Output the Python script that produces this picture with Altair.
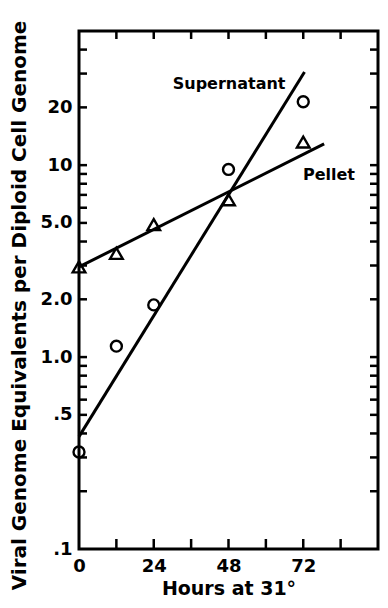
import altair as alt
import pandas as pd

# ---- data ----
hours = [0, 12, 24, 48, 72]
supernatant = [0.32, 1.14, 1.87, 9.5, 21.4]
pellet = [2.95, 3.47, 4.9, 6.6, 13.2]

sup_fit_hours = [0, 72.4]
sup_fit = [0.385, 30.6]
pel_fit_hours = [0, 78.7]
pel_fit = [2.95, 12.9]

y_label_values = [0.1, 0.5, 1, 2, 5, 10, 20]
y_label_texts = [".1", ".5", "1.0", "2.0", "5.0", "10", "20"]
y_ticks = [0.2, 0.3, 0.4, 0.5, 0.6, 0.7, 0.8, 0.9, 1, 2, 3, 4, 5, 6, 7, 8, 9, 10, 20, 30, 40]
x_label_values = [0, 24, 48, 72]
x_ticks = [12, 24, 36, 48, 60, 72, 84]

series_labels = ["Supernatant", "Pellet"]
label_hours = [66.3, 71.9]
label_values = [25.0, 8.35]
label_align = ["right", "left"]

W, H = 299, 518
FONT = "DejaVu Sans"

xscale = alt.Scale(domain=[0, 96], nice=False, zero=False)
yscale = alt.Scale(type="log", domain=[0.1, 50], nice=False)

label_expr = " : ".join(
    [f"datum.value == {v} ? '{t}'" for v, t in zip(y_label_values, y_label_texts)]
) + " : ''"

x_axis = alt.Axis(
    values=x_label_values, title="Hours at 31°", grid=False, ticks=False, domain=False,
    labelFlush=False, labelFont=FONT, labelFontSize=18, labelFontWeight="bold",
    labelColor="black", labelPadding=8, titleFont=FONT, titleFontSize=19,
    titleFontWeight="bold", titleColor="black", titlePadding=4,
)
y_axis = alt.Axis(
    values=y_label_values, labelExpr=label_expr,
    title="Viral Genome Equivalents per Diploid Cell Genome",
    grid=False, ticks=False, domain=False, labelFlush=False, labelOverlap=False,
    labelFont=FONT, labelFontSize=18, labelFontWeight="bold", labelColor="black",
    labelPadding=7, titleFont=FONT, titleFontSize=20, titleFontWeight="bold",
    titleColor="black", titleX=-60, titleY=274, titleAngle=270,
    titleAlign="center", titleBaseline="middle",
)

fits = pd.DataFrame({
    "series": ["Supernatant"] * 2 + ["Pellet"] * 2,
    "h": sup_fit_hours + pel_fit_hours,
    "v": sup_fit + pel_fit,
})
sup_df = pd.DataFrame({"h": hours, "v": supernatant})
pel_df = pd.DataFrame({"h": hours, "v": pellet})
lab_df = pd.DataFrame({"t": series_labels, "h": label_hours, "v": label_values, "a": label_align})

X = lambda: alt.X("h:Q", scale=xscale, axis=x_axis)
Y = lambda: alt.Y("v:Q", scale=yscale, axis=y_axis)

lines = alt.Chart(fits).mark_line(color="black", strokeWidth=3).encode(
    x=X(), y=Y(), detail="series:N"
)
circles = alt.Chart(sup_df).mark_point(
    shape="circle", filled=False, color="black", strokeWidth=2.4, size=120, opacity=1
).encode(x=X(), y=Y())
tris = alt.Chart(pel_df).mark_point(
    shape="triangle-up", filled=False, color="black", strokeWidth=2.4, size=160, opacity=1
).encode(x=X(), y=Y())

texts = []
for i in range(len(series_labels)):
    texts.append(
        alt.Chart(lab_df.iloc[[i]]).mark_text(
            font=FONT, fontSize=16, fontWeight="bold", color="black",
            align=label_align[i], baseline="alphabetic",
        ).encode(x=X(), y=Y(), text="t:N")
    )

ytick_df = pd.DataFrame({"v": y_ticks})
xtick_df = pd.DataFrame({"h": x_ticks})
left_t = alt.Chart(ytick_df).mark_rule(color="black", strokeWidth=2.5).encode(
    y=Y(), x=alt.value(0), x2=alt.value(8))
right_t = alt.Chart(ytick_df).mark_rule(color="black", strokeWidth=2.5).encode(
    y=Y(), x=alt.value(W), x2=alt.value(W - 8))
bot_t = alt.Chart(xtick_df).mark_rule(color="black", strokeWidth=2.5).encode(
    x=X(), y=alt.value(H), y2=alt.value(H - 10))
top_t = alt.Chart(xtick_df).mark_rule(color="black", strokeWidth=2.5).encode(
    x=X(), y=alt.value(0), y2=alt.value(8))

chart = alt.layer(
    left_t, right_t, bot_t, top_t, lines, circles, tris, *texts
).properties(
    width=W, height=H,
    autosize=alt.AutoSizeParams(type="none"),
    padding={"left": 71, "top": 23, "right": 2, "bottom": 51},
    background="white",
).configure_view(stroke="black", strokeWidth=3)

chart.save("out.html", embed_options={"renderer": "svg", "actions": False})
